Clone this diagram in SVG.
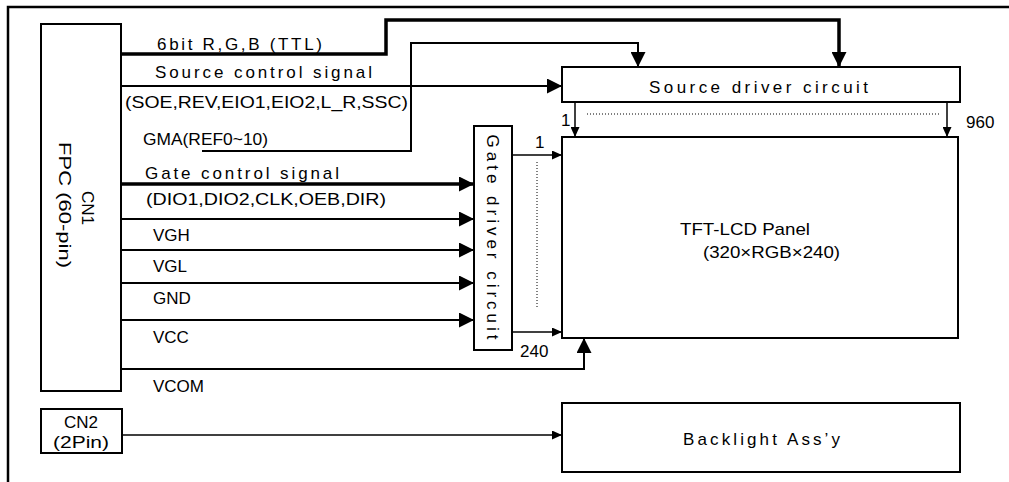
<svg xmlns="http://www.w3.org/2000/svg" width="1009" height="482" viewBox="0 0 1009 482">
<style>
  text { font-family: "Liberation Sans", Arial, sans-serif; font-size: 17px; fill: #000; }
  .box { fill: #fff; stroke: #000; stroke-width: 2; }
  .thick { fill: none; stroke: #000; stroke-width: 3.5; }
  .mid { fill: none; stroke: #000; stroke-width: 2; }
  .thin { fill: none; stroke: #000; stroke-width: 1.5; }
  .dot { fill: none; stroke: #000; stroke-width: 1; stroke-dasharray: 1 2; }
</style>
<defs>
  <marker id="big" markerUnits="userSpaceOnUse" markerWidth="15" markerHeight="15" refX="15" refY="7.5" orient="auto">
    <path d="M0,0 L15,7.5 L0,15 z" fill="#000"/>
  </marker>
  <marker id="small" markerUnits="userSpaceOnUse" markerWidth="10" markerHeight="9" refX="10" refY="4.5" orient="auto">
    <path d="M0,0 L10,4.5 L0,9 z" fill="#000"/>
  </marker>
</defs>
<rect width="1009" height="482" fill="#fff"/>
<g id="frame">
  <path d="M8,482 L8,7 L1009,7" fill="none" stroke="#000" stroke-width="2.5"/>
</g>
<g id="cn1">
  <rect class="box" x="41" y="24" width="80" height="367"/>
  <text transform="translate(82,208) rotate(90)" text-anchor="middle">CN1</text>
  <text transform="translate(59,205) rotate(90)" text-anchor="middle" textLength="126" lengthAdjust="spacingAndGlyphs">FPC (60-pin)</text>
</g>
<g id="cn2">
  <rect class="box" x="41" y="409" width="81" height="44"/>
  <text x="81" y="428" text-anchor="middle">CN2</text>
  <text x="81" y="448" text-anchor="middle" textLength="56" lengthAdjust="spacingAndGlyphs">(2Pin)</text>
</g>
<g id="source-driver">
  <rect class="box" x="562" y="67" width="398" height="35"/>
  <text x="649" y="93" textLength="219" lengthAdjust="spacing">Source driver circuit</text>
</g>
<g id="gate-driver">
  <rect class="box" x="474" y="126" width="38" height="224"/>
  <text transform="translate(487,237) rotate(90)" text-anchor="middle" textLength="205" lengthAdjust="spacing">Gate driver circuit</text>
</g>
<g id="tft-panel">
  <rect class="box" x="562" y="137" width="396" height="201"/>
  <text x="680" y="235" textLength="130" lengthAdjust="spacingAndGlyphs">TFT-LCD Panel</text>
  <text x="703" y="258" textLength="137" lengthAdjust="spacingAndGlyphs">(320×RGB×240)</text>
</g>
<g id="backlight">
  <rect class="box" x="562" y="403" width="398" height="69"/>
  <text x="683" y="445" textLength="157" lengthAdjust="spacing">Backlight Ass’y</text>
</g>
<g id="connectors">
  <path class="thick" d="M121,54 L386,54 L386,20 L839,20 L839,67" marker-end="url(#big)"/>
  <path class="mid" d="M121,86 L562,86" marker-end="url(#big)"/>
  <path class="mid" d="M202,151 L411,151 L411,43 L638,43 L638,67" marker-end="url(#big)"/>
  <path class="thick" d="M121,184 L474,184" marker-end="url(#big)"/>
  <path class="mid" d="M121,219 L474,219" marker-end="url(#big)"/>
  <path class="mid" d="M121,250 L474,250" marker-end="url(#big)"/>
  <path class="mid" d="M121,283 L474,283" marker-end="url(#big)"/>
  <path class="mid" d="M121,320 L474,320" marker-end="url(#big)"/>
  <path class="mid" d="M120,369 L584,369 L584,338" marker-end="url(#big)"/>
  <path class="thin" d="M122,435 L562,435" marker-end="url(#small)"/>
  <path class="thin" d="M575,102 L575,137" marker-end="url(#small)"/>
  <path class="thin" d="M947,102 L947,137" marker-end="url(#small)"/>
  <path class="thin" d="M512,155 L562,155" marker-end="url(#small)"/>
  <path class="thin" d="M512,332 L562,332" marker-end="url(#small)"/>
  <path class="dot" d="M587,114 L940,114"/>
  <path class="dot" d="M537,162 L537,307"/>
</g>
<g id="labels">
  <text x="157" y="50" textLength="165" lengthAdjust="spacing">6bit R,G,B (TTL)</text>
  <text x="155" y="78" textLength="217" lengthAdjust="spacing">Source control signal</text>
  <text x="125" y="108" textLength="283" lengthAdjust="spacingAndGlyphs">(SOE,REV,EIO1,EIO2,L_R,SSC)</text>
  <text x="143" y="145" textLength="125" lengthAdjust="spacingAndGlyphs">GMA(REF0~10)</text>
  <text x="145" y="179" textLength="194" lengthAdjust="spacing">Gate control signal</text>
  <text x="146" y="205" textLength="240" lengthAdjust="spacingAndGlyphs">(DIO1,DIO2,CLK,OEB,DIR)</text>
  <text x="153" y="241">VGH</text>
  <text x="153" y="272">VGL</text>
  <text x="153" y="304">GND</text>
  <text x="153" y="343">VCC</text>
  <text x="153" y="392">VCOM</text>
  <text x="561" y="126">1</text>
  <text x="966" y="128">960</text>
  <text x="535" y="148">1</text>
  <text x="520" y="357">240</text>
</g>
</svg>
